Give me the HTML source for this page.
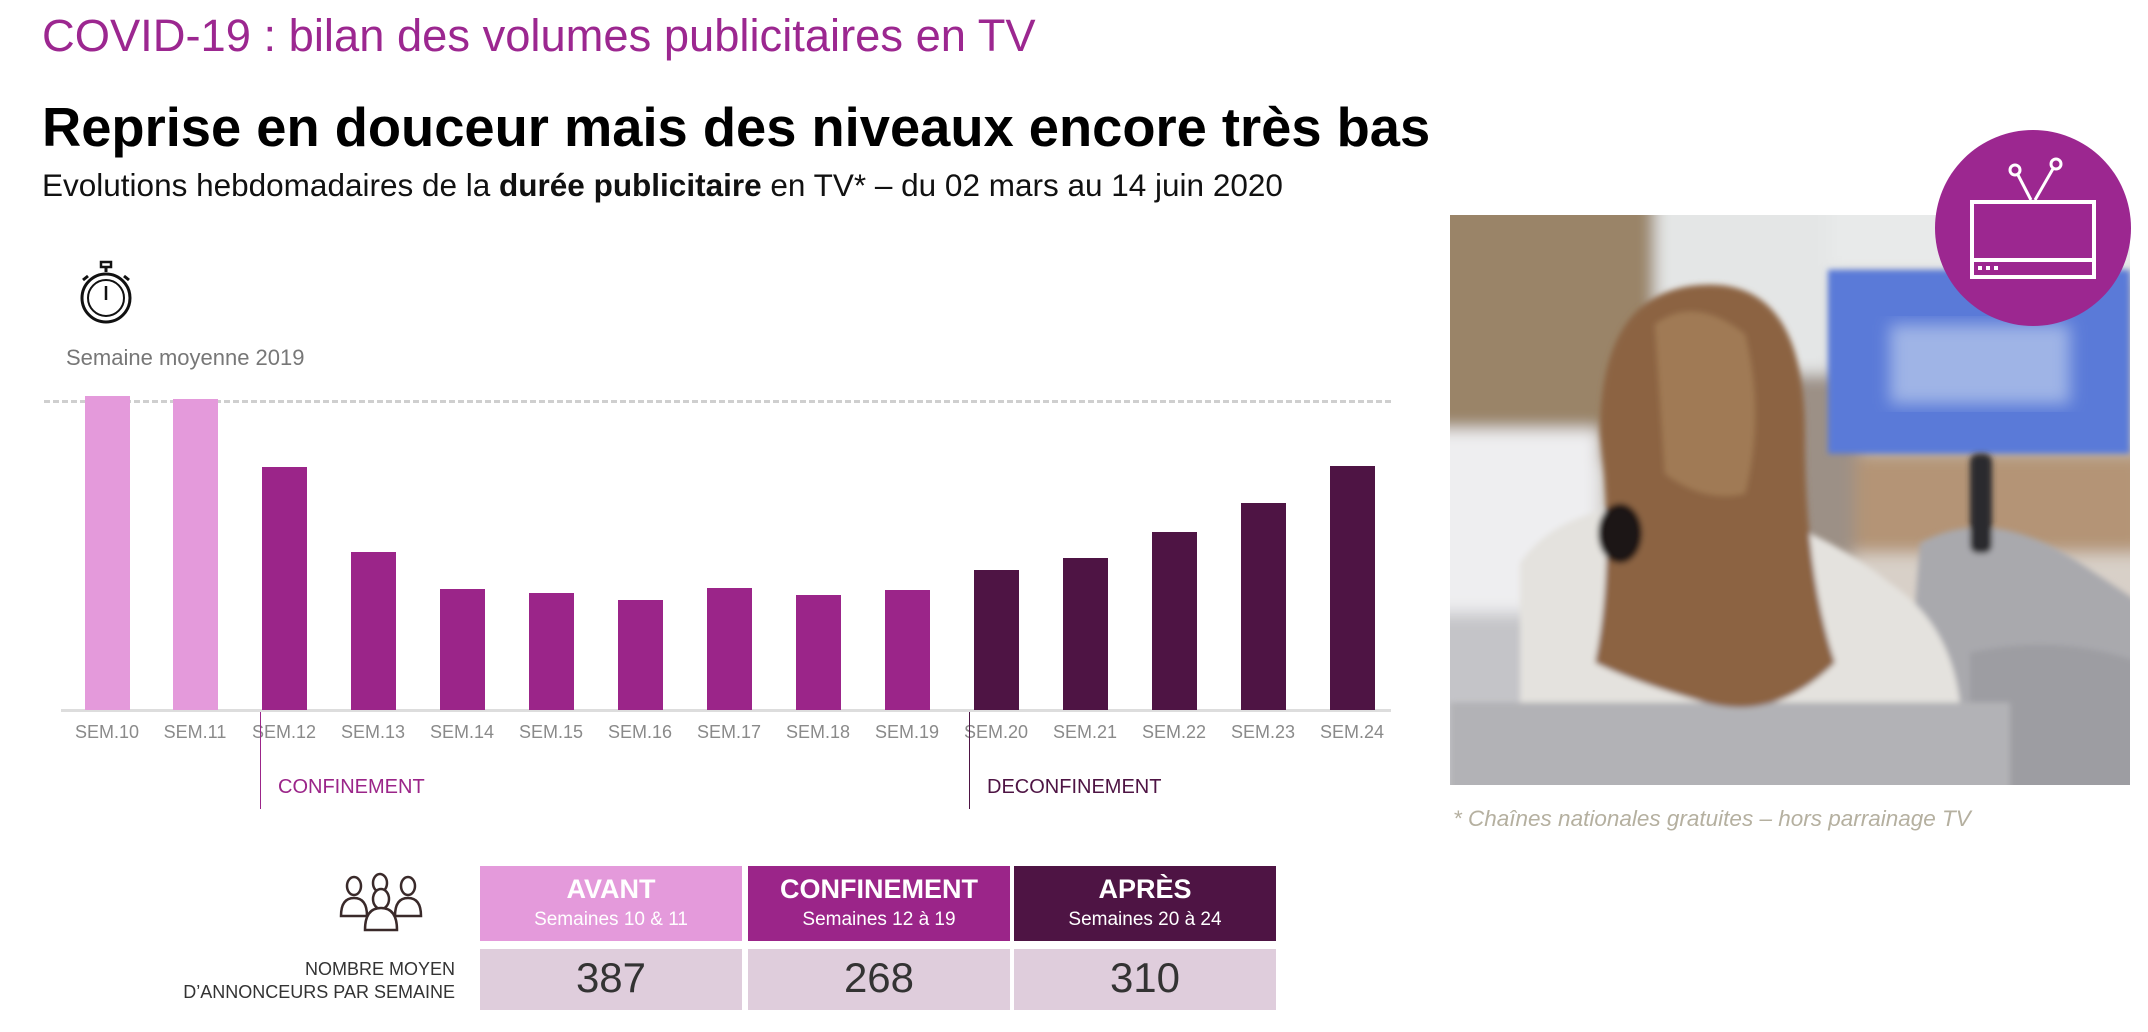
<!DOCTYPE html>
<html><head><meta charset="utf-8"><style>
body{margin:0;width:2148px;height:1032px;background:#fff;position:relative;overflow:hidden;font-family:"Liberation Sans",sans-serif}
.a{position:absolute;white-space:nowrap}
.lab{position:absolute;top:722px;font-size:18px;color:#8a8a8a;width:90px;text-align:center}
.bar{position:absolute;width:45px}
.hd{position:absolute;top:866px;height:75px;color:#fff;text-align:center}
.hd b{display:block;font-size:27px;margin-top:8px}
.hd span{display:block;font-size:19px;margin-top:4px}
.val{position:absolute;top:949px;height:61px;background:#dfcddc;color:#333;font-size:42px;text-align:center;line-height:58px}
</style></head><body>
<div class="a" style="left:42px;top:10px;font-size:45.3px;color:#9c2790">COVID-19 : bilan des volumes publicitaires en TV</div>
<div class="a" style="left:42px;top:96px;font-size:54.3px;font-weight:bold;color:#000">Reprise en douceur mais des niveaux encore très bas</div>
<div class="a" style="left:42px;top:167px;font-size:31.5px;color:#111">Evolutions hebdomadaires de la <b>durée publicitaire</b> en TV* – du 02 mars au 14 juin 2020</div>
<svg class="a" style="left:76px;top:260px" width="60" height="68" viewBox="0 0 60 68"><rect x="25" y="2" width="10" height="5" fill="none" stroke="#111" stroke-width="2.5"/><line x1="30" y1="7" x2="30" y2="12" stroke="#111" stroke-width="3"/><circle cx="30" cy="38" r="24" fill="none" stroke="#111" stroke-width="3"/><circle cx="30" cy="38" r="18" fill="none" stroke="#111" stroke-width="2"/><line x1="30" y1="26" x2="30" y2="40" stroke="#111" stroke-width="2.5"/><line x1="7" y1="20" x2="12" y2="16" stroke="#111" stroke-width="3"/><line x1="53" y1="20" x2="48" y2="16" stroke="#111" stroke-width="3"/></svg>
<div class="a" style="left:66px;top:345px;font-size:22px;color:#777">Semaine moyenne 2019</div>
<div class="a" style="left:44px;top:400px;width:1347px;border-top:3px dashed #cfcfcf"></div>
<div class="a" style="left:61px;top:709px;width:1330px;height:3px;background:#ddd"></div>
<div class="bar" style="left:85px;top:396px;height:314px;background:#e49adb"></div>
<div class="bar" style="left:173px;top:399px;height:311px;background:#e49adb"></div>
<div class="bar" style="left:262px;top:467px;height:243px;background:#9b2589"></div>
<div class="bar" style="left:351px;top:552px;height:158px;background:#9b2589"></div>
<div class="bar" style="left:440px;top:589px;height:121px;background:#9b2589"></div>
<div class="bar" style="left:529px;top:593px;height:117px;background:#9b2589"></div>
<div class="bar" style="left:618px;top:600px;height:110px;background:#9b2589"></div>
<div class="bar" style="left:707px;top:588px;height:122px;background:#9b2589"></div>
<div class="bar" style="left:796px;top:595px;height:115px;background:#9b2589"></div>
<div class="bar" style="left:885px;top:590px;height:120px;background:#9b2589"></div>
<div class="bar" style="left:974px;top:570px;height:140px;background:#4e1444"></div>
<div class="bar" style="left:1063px;top:558px;height:152px;background:#4e1444"></div>
<div class="bar" style="left:1152px;top:532px;height:178px;background:#4e1444"></div>
<div class="bar" style="left:1241px;top:503px;height:207px;background:#4e1444"></div>
<div class="bar" style="left:1330px;top:466px;height:244px;background:#4e1444"></div>
<div class="lab" style="left:62px">SEM.10</div><div class="lab" style="left:150px">SEM.11</div><div class="lab" style="left:239px">SEM.12</div><div class="lab" style="left:328px">SEM.13</div><div class="lab" style="left:417px">SEM.14</div><div class="lab" style="left:506px">SEM.15</div><div class="lab" style="left:595px">SEM.16</div><div class="lab" style="left:684px">SEM.17</div><div class="lab" style="left:773px">SEM.18</div><div class="lab" style="left:862px">SEM.19</div><div class="lab" style="left:951px">SEM.20</div><div class="lab" style="left:1040px">SEM.21</div><div class="lab" style="left:1129px">SEM.22</div><div class="lab" style="left:1218px">SEM.23</div><div class="lab" style="left:1307px">SEM.24</div>
<div class="a" style="left:260px;top:712px;width:1px;height:97px;background:#9b2589"></div>
<div class="a" style="left:969px;top:712px;width:1px;height:97px;background:#4e1444"></div>
<div class="a" style="left:278px;top:776px;font-size:20px;color:#9b2589">CONFINEMENT</div>
<div class="a" style="left:987px;top:776px;font-size:20px;color:#4e1444">DECONFINEMENT</div>
<svg class="a" style="left:338px;top:872px" width="90" height="60" viewBox="0 0 90 60" fill="#fff" stroke="#3a2a2a" stroke-width="2.5"><ellipse cx="16" cy="14" rx="7" ry="9"/><ellipse cx="42" cy="11" rx="7" ry="9"/><ellipse cx="70" cy="14" rx="7" ry="9"/><path d="M3 44 q0-18 13-18 q13 0 13 18z"/><path d="M57 44 q0-18 13-18 q13 0 13 18z"/><ellipse cx="43" cy="27" rx="8" ry="10"/><path d="M27 58 q0-22 16-22 q16 0 16 22z"/></svg>
<div class="a" style="left:100px;top:958px;width:355px;text-align:right;font-size:18px;color:#333;line-height:23px">NOMBRE MOYEN<br>D’ANNONCEURS PAR SEMAINE</div>
<div class="hd" style="left:480px;width:262px;background:#e49adb"><b>AVANT</b><span>Semaines 10 &amp; 11</span></div>
<div class="hd" style="left:748px;width:262px;background:#9b2589"><b>CONFINEMENT</b><span>Semaines 12 à 19</span></div>
<div class="hd" style="left:1014px;width:262px;background:#4e1444"><b>APRÈS</b><span>Semaines 20 à 24</span></div>
<div class="val" style="left:480px;width:262px">387</div>
<div class="val" style="left:748px;width:262px">268</div>
<div class="val" style="left:1014px;width:262px">310</div>
<svg class="a" style="left:1450px;top:215px" width="680" height="570" viewBox="0 0 680 573" preserveAspectRatio="none">
<defs><filter id="b"><feGaussianBlur stdDeviation="8"/></filter><filter id="s"><feGaussianBlur stdDeviation="3"/></filter><clipPath id="c"><rect width="680" height="573"/></clipPath></defs>
<g clip-path="url(#c)">
<rect width="680" height="573" fill="#c8c4be"/>
<g filter="url(#b)">
<rect x="-20" y="-20" width="230" height="270" fill="#9a8468"/>
<rect x="205" y="-20" width="180" height="180" fill="#e4e6e6"/>
<rect x="380" y="-20" width="320" height="80" fill="#e8eaea"/>
<rect x="340" y="160" width="70" height="200" fill="#9c9086"/>
<rect x="405" y="240" width="290" height="110" fill="#b49476"/>
<rect x="-20" y="215" width="170" height="190" fill="#eeeef0"/>
<rect x="-20" y="400" width="120" height="180" fill="#c4c4c8"/>
<rect x="400" y="340" width="300" height="120" fill="#d8d0c8"/>
</g>
<rect x="378" y="55" width="302" height="185" fill="#5a7ad8" filter="url(#s)"/>
<rect x="440" y="110" width="180" height="80" fill="#9fb4e6" filter="url(#b)"/>
<g filter="url(#s)">
<path d="M470 330 q70-40 160 20 l60 40 v190 h-240z" fill="#a9a9ad"/>
<path d="M520 440 q90-20 170 10 v130 h-170z" fill="#9d9da2"/>
<path d="M70 350 q40-60 150-60 q120 0 220 80 q60 40 70 120 v90 h-440z" fill="#e4e2de"/>
<rect x="0" y="490" width="560" height="90" fill="#b2b2b6"/>
<path d="M150 220 q0-150 110-150 q95 0 95 150 q0 140 30 230 q-60 60-130 40 q-70-20-110-40 q20-100 5-230z" fill="#8c6443"/>
<path d="M205 110 q40-30 90 10 q20 80 0 160 q-40 10-80-20z" fill="#a07a55"/>
<ellipse cx="170" cy="320" rx="22" ry="30" fill="#1a1414"/>
<rect x="520" y="240" width="22" height="100" fill="#2a2a2e" rx="8"/>
</g>
</g></svg>
<svg class="a" style="left:1933px;top:129px" width="200" height="200"><circle cx="100" cy="99" r="98" fill="#9c2790"/><rect x="39" y="73" width="122" height="75" fill="none" stroke="#fff" stroke-width="4"/><line x1="39" y1="131" x2="161" y2="131" stroke="#fff" stroke-width="4"/><rect x="45" y="137" width="4" height="4" fill="#fff"/><rect x="53" y="137" width="4" height="4" fill="#fff"/><rect x="61" y="137" width="4" height="4" fill="#fff"/><line x1="84" y1="44" x2="98" y2="71" stroke="#fff" stroke-width="3"/><line x1="121" y1="38" x2="102" y2="71" stroke="#fff" stroke-width="3"/><circle cx="82" cy="41" r="5" fill="#9c2790" stroke="#fff" stroke-width="3"/><circle cx="123" cy="35" r="5" fill="#9c2790" stroke="#fff" stroke-width="3"/></svg>
<div class="a" style="left:1453px;top:806px;font-size:22.5px;font-style:italic;color:#b5b0a0">* Chaînes nationales gratuites – hors parrainage TV</div>
</body></html>
